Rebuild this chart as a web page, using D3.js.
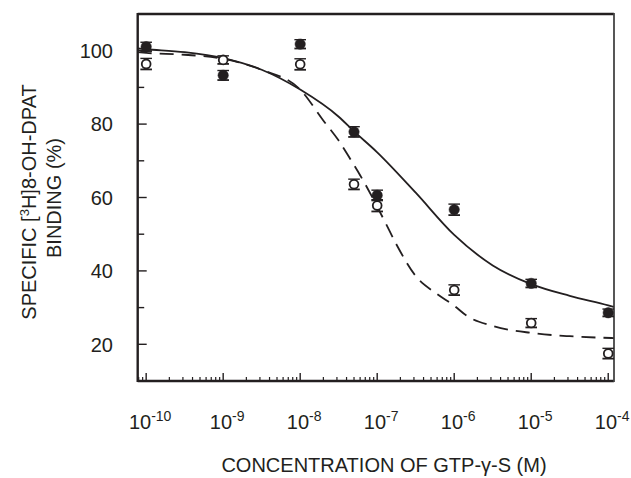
<!DOCTYPE html>
<html>
<head>
<meta charset="utf-8">
<script src="https://cdn.jsdelivr.net/npm/d3@7/dist/d3.min.js"></script>
<style>
  html, body { margin: 0; padding: 0; background: #fff; }
  svg { display: block; }
  text { font-family: "Liberation Sans", Arial, sans-serif; fill: #231f20; }
</style>
</head>
<body>
<svg id="chart" width="631" height="478"></svg>
<script>
// ---- data ----
const concentrations = [1e-10, 1e-9, 1e-8, 5e-8, 1e-7, 1e-6, 1e-5, 1e-4];
const filledValues = [101.1, 93.3, 101.8, 77.9, 60.6, 56.7, 36.6, 28.6];
const filledErrors = [1.2, 1.3, 1.2, 1.4, 1.4, 1.5, 1.1, 1.0];
const openValues = [96.4, 97.5, 96.3, 63.6, 57.8, 34.8, 25.8, 17.5];
const openErrors = [1.5, 1.1, 1.5, 1.4, 1.6, 1.4, 1.2, 1.4];

// fitted curves, sampled at log10(concentration)
const solidCurveLogX = [-10.11, -10, -9.5, -9, -8.5, -8, -7.5, -7.3, -7, -6.5, -6, -5.5, -5, -4.5, -4, -3.93];
const solidCurveY = [100.6, 100.4, 99.6, 98.0, 94.8, 89.4, 82.0, 78.0, 72.3, 61.3, 49.8, 41.5, 36.4, 33.2, 30.6, 30.2];
const dashedCurveLogX = [-10.11, -10, -9.5, -9, -8.5, -8, -7.7, -7.5, -7.35, -7.22, -7.1, -7, -6.9, -6.75, -6.5, -6.23, -6, -5.84, -5.5, -5, -4.5, -3.93];
const dashedCurveY = [99.6, 99.4, 98.9, 97.8, 94.8, 89.4, 81.0, 75.5, 70.5, 66.0, 61.5, 57.5, 53.4, 47.2, 38.6, 33.8, 30.5, 27.8, 25.0, 23.1, 22.2, 21.7];

const xTickExponents = [-10, -9, -8, -7, -6, -5, -4];
const yTickValues = [20, 40, 60, 80, 100];
const yMinorTickValues = [30, 50, 70, 90];
const xTitle = "CONCENTRATION OF GTP-\u03b3-S (M)";

// ---- layout ----
const svg = d3.select("#chart");
const pL = 137.7, pR = 614, pT = 14, pB = 381;
const ink = "#231f20";

const x = d3.scaleLog().domain([Math.pow(10, -10.11), Math.pow(10, -3.925)]).range([pL, pR]);
const y = d3.scaleLinear().domain([10, 110]).range([pB, pT]);

// minor x ticks (2..9 per decade)
const minorX = [];
for (let e = -11; e <= -4; e++) {
  for (let m = 2; m <= 9; m++) {
    const v = m * Math.pow(10, e);
    if (v > x.domain()[0] && v < x.domain()[1]) minorX.push(v);
  }
}
const majorX = xTickExponents.map(e => Math.pow(10, e));

const g = svg.append("g");

// x ticks (inward from bottom axis)
g.selectAll("line.xminor").data(minorX).join("line")
  .attr("x1", d => x(d)).attr("x2", d => x(d))
  .attr("y1", pB).attr("y2", pB - 4)
  .attr("stroke", ink).attr("stroke-width", 1.2);
g.selectAll("line.xmajor").data(majorX).join("line")
  .attr("x1", d => x(d)).attr("x2", d => x(d))
  .attr("y1", pB).attr("y2", pB - 8)
  .attr("stroke", ink).attr("stroke-width", 1.4);

// y ticks (inward from left axis)
g.selectAll("line.ymajor").data(yTickValues).join("line")
  .attr("x1", pL).attr("x2", pL + 9)
  .attr("y1", d => y(d)).attr("y2", d => y(d))
  .attr("stroke", ink).attr("stroke-width", 1.4);
g.selectAll("line.yminor").data(yMinorTickValues).join("line")
  .attr("x1", pL).attr("x2", pL + 6.5)
  .attr("y1", d => y(d)).attr("y2", d => y(d))
  .attr("stroke", ink).attr("stroke-width", 1.4);

// frame
svg.append("line").attr("x1", pL).attr("x2", pR).attr("y1", pT).attr("y2", pT).attr("stroke", ink).attr("stroke-width", 2.4);
svg.append("line").attr("x1", pL).attr("x2", pR).attr("y1", pB).attr("y2", pB).attr("stroke", ink).attr("stroke-width", 2.4);
svg.append("line").attr("x1", pL).attr("x2", pL).attr("y1", pT - 1).attr("y2", pB + 1).attr("stroke", ink).attr("stroke-width", 2.4);
svg.append("line").attr("x1", pR).attr("x2", pR).attr("y1", pT - 1).attr("y2", pB + 1).attr("stroke", "#444").attr("stroke-width", 1.8);

// y tick labels
svg.selectAll("text.ylab").data(yTickValues).join("text")
  .attr("x", 113).attr("y", d => y(d)).attr("dy", "0.36em")
  .attr("text-anchor", "end").attr("font-size", 20)
  .text(d => d);

// x tick labels 10^e
const xl = svg.selectAll("text.xlab").data(xTickExponents).join("text")
  .attr("x", d => x(Math.pow(10, d)) + 4).attr("y", 429)
  .attr("text-anchor", "middle").attr("font-size", 20);
xl.append("tspan").text("10");
xl.append("tspan").attr("font-size", 14).attr("dy", -8).text(d => "-" + Math.abs(d));

// x title
svg.append("text").attr("x", 384).attr("y", 472).attr("text-anchor", "middle")
  .attr("font-size", 20).text(xTitle);

// y title (two lines, rotated)
const yt1 = svg.append("text").attr("transform", "translate(36,202) rotate(-90)")
  .attr("text-anchor", "middle").attr("font-size", 20);
yt1.append("tspan").text("SPECIFIC [");
yt1.append("tspan").attr("font-size", 13).attr("dy", -7).text("3");
yt1.append("tspan").attr("dy", 7).text("H]8-OH-DPAT");
svg.append("text").attr("transform", "translate(61,198) rotate(-90)")
  .attr("text-anchor", "middle").attr("font-size", 20).text("BINDING (%)");

// curves
const solidData = solidCurveLogX.map((lx, i) => [Math.pow(10, lx), solidCurveY[i]]);
const dashedData = dashedCurveLogX.map((lx, i) => [Math.pow(10, lx), dashedCurveY[i]]);
const line = d3.line().x(d => x(d[0])).y(d => y(d[1])).curve(d3.curveMonotoneX);

svg.append("path").attr("d", line(dashedData)).attr("fill", "none")
  .attr("stroke", ink).attr("stroke-width", 1.8).attr("stroke-dasharray", "14,8");
svg.append("path").attr("d", line(solidData)).attr("fill", "none")
  .attr("stroke", ink).attr("stroke-width", 1.8);

// error bars + markers
function drawSeries(vals, errs, filled) {
  const data = concentrations.map((c, i) => ({ c, v: vals[i], e: errs[i] }));
  const eg = svg.append("g");
  eg.selectAll("line.v").data(data).join("line")
    .attr("x1", d => x(d.c)).attr("x2", d => x(d.c))
    .attr("y1", d => y(d.v - d.e)).attr("y2", d => y(d.v + d.e))
    .attr("stroke", ink).attr("stroke-width", 1.4);
  eg.selectAll("line.lo").data(data).join("line")
    .attr("x1", d => x(d.c) - 5.8).attr("x2", d => x(d.c) + 5.8)
    .attr("y1", d => y(d.v - d.e)).attr("y2", d => y(d.v - d.e))
    .attr("stroke", ink).attr("stroke-width", 1.8);
  eg.selectAll("line.hi").data(data).join("line")
    .attr("x1", d => x(d.c) - 5.8).attr("x2", d => x(d.c) + 5.8)
    .attr("y1", d => y(d.v + d.e)).attr("y2", d => y(d.v + d.e))
    .attr("stroke", ink).attr("stroke-width", 1.4);
  eg.selectAll("circle").data(data).join("circle")
    .attr("cx", d => x(d.c)).attr("cy", d => y(d.v)).attr("r", filled ? 5.2 : 4.4)
    .attr("fill", filled ? ink : "#fff")
    .attr("stroke", ink).attr("stroke-width", filled ? 0.5 : 1.8);
}
drawSeries(openValues, openErrors, false);
drawSeries(filledValues, filledErrors, true);
</script>
</body>
</html>
